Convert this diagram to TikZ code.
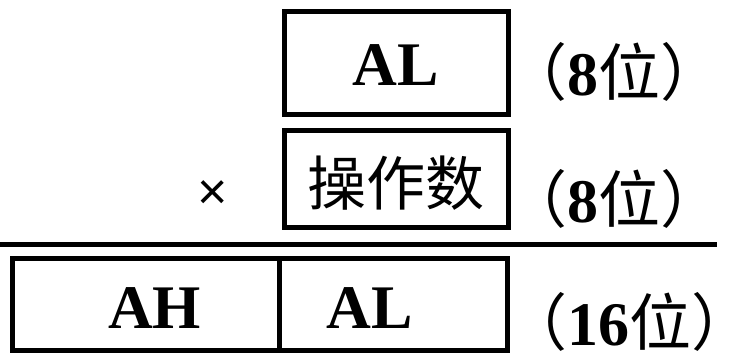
\documentclass[tikz,border=0pt]{standalone}
\usepackage{fontspec}
\setmainfont{Liberation Serif}
\newfontfamily\cjk{Noto Sans CJK SC}
\newfontfamily\symfont{Liberation Sans}
\newcommand{\rpar}{\makebox[0.45em][l]{\cjk ）}}
\begin{document}
\begin{tikzpicture}[x=1pt,y=-1pt,
  cell/.style={draw, line width=5pt, inner sep=0pt, outer sep=0pt, rectangle},
  reg/.style={inner sep=0pt, outer sep=0pt, font=\fontsize{62}{62}\selectfont\bfseries},
  bits/.style={inner sep=0pt, outer sep=0pt, anchor=base west, font=\fontsize{62}{62}\selectfont},
  rule/.style={line width=5pt}]
\useasboundingbox (0,0) rectangle (733,353);
% boxes
\node[cell, minimum width=224.5pt, minimum height=103pt] (top) at (396.25,63) {};
\node[cell, minimum width=224.5pt, minimum height=97pt] (mid) at (396.25,179) {};
\node[cell, minimum width=267.5pt, minimum height=92pt] (bl) at (145.75,304) {};
\node[cell, minimum width=228pt, minimum height=92pt] (br) at (393.5,304) {};
% texts
\node[reg, anchor=base] (tal) at (395.5,85) {AL};
\node[inner sep=0pt, font=\fontsize{59}{59}\selectfont\cjk] (op) at (395.5,183.5) {操作数};
\node[inner sep=0pt, font=\fontsize{52}{52}\selectfont\symfont] (times) at (213,195) {×};
\node[reg, anchor=base] (ah) at (154.5,328) {AH};
\node[reg, anchor=base] (bal) at (370,328) {AL};
% bit labels
\node[bits] (b1) at (505,95) {{\cjk （}\textbf{8}{\cjk 位}\rpar};
\node[bits] (b2) at (505,222) {{\cjk （}\textbf{8}{\cjk 位}\rpar};
\node[bits] (b3) at (505,345) {{\cjk （}\textbf{16}{\cjk 位}\rpar};
% rule
\coordinate (r1) at (0,244.5);
\coordinate (r2) at (717,244.5);
\draw[rule] (r1) -- (r2);
\end{tikzpicture}
\end{document}
